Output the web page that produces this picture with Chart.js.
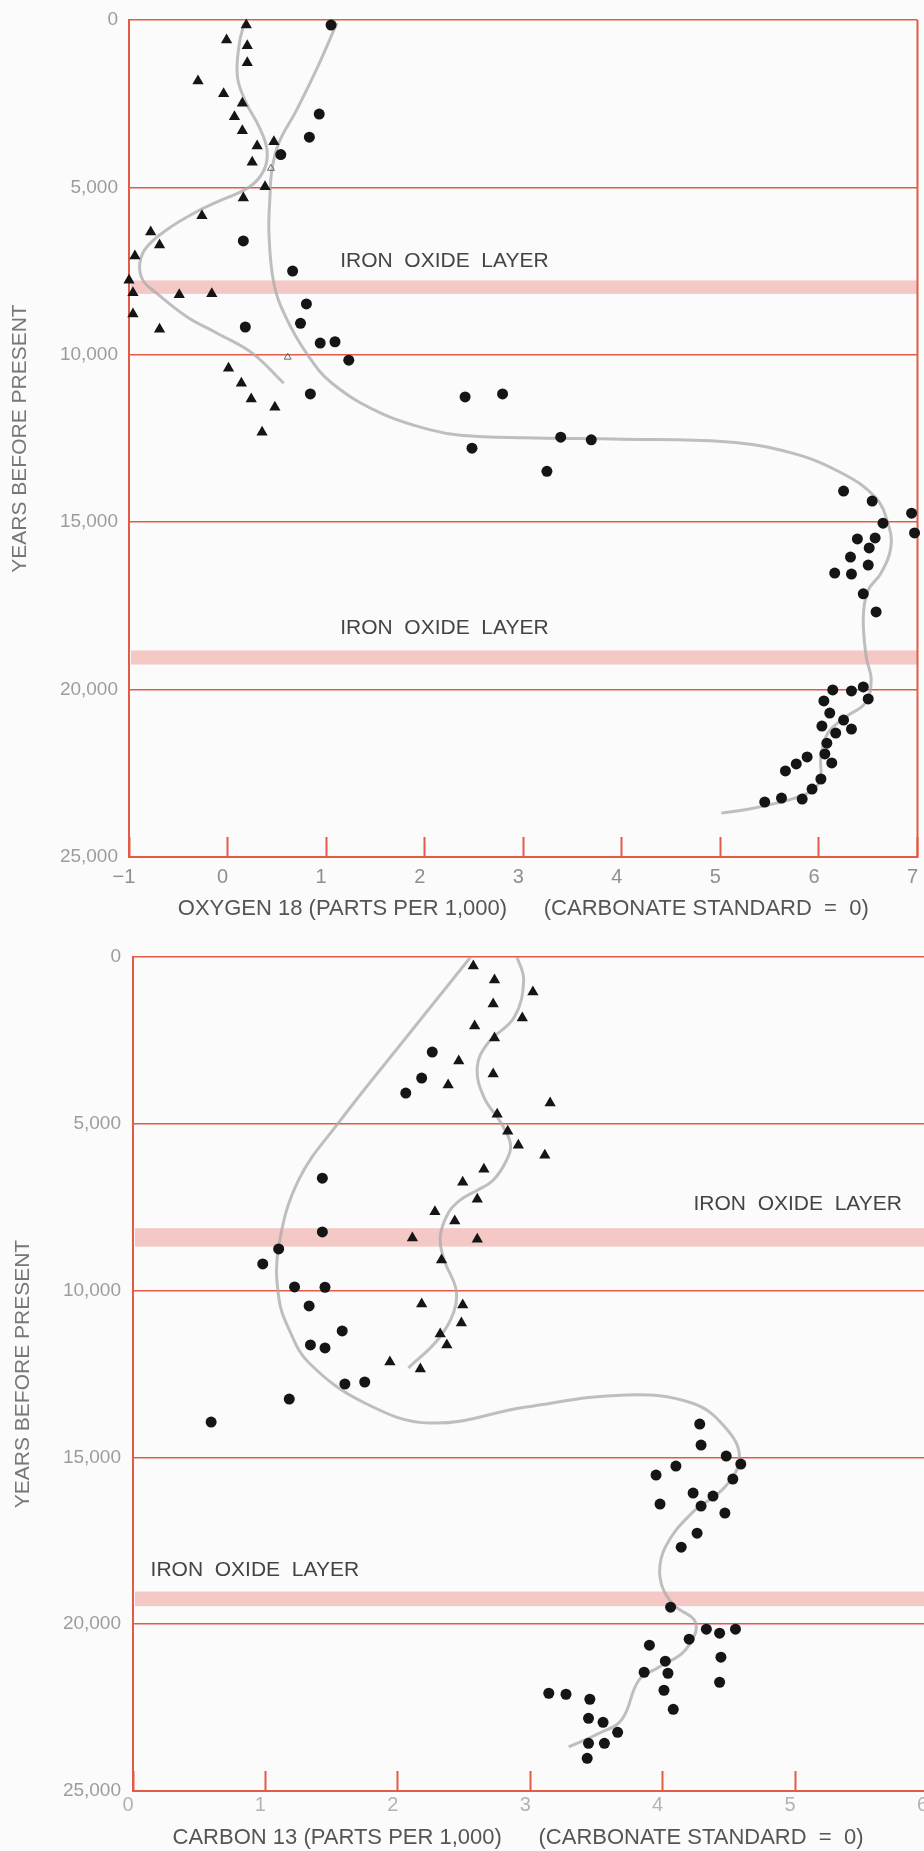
<!DOCTYPE html>
<html>
<head>
<meta charset="utf-8">
<title>Oxygen 18 and carbon 13 in the core</title>
<script src="https://cdn.jsdelivr.net/npm/chart.js@4.4.1/dist/chart.umd.min.js"></script>
<style>
  html, body { margin: 0; padding: 0; background: #fbfbfb; width: 924px; height: 1851px; overflow: hidden; }
  canvas { position: absolute; left: 0; }
  #o18Chart { top: 0; }
  #c13Chart { top: 940px; }
</style>
</head>
<body>
<canvas id="o18Chart" width="924" height="940"></canvas>
<canvas id="c13Chart" width="934" height="911"></canvas>
<script>
// ---- oxygen 18 (top panel) ----
var o18CircleX = [1.05, 0.93, 0.83, 0.54, 0.16, 0.66, 0.80, 0.74, 0.18, 0.94, 1.09, 1.23, 0.84, 2.41, 2.79, 3.38, 3.69, 2.48, 3.24,
  6.25, 6.54, 6.94, 6.65, 6.97, 6.39, 6.57, 6.51, 6.32, 6.50, 6.16, 6.33, 6.45, 6.58,
  6.14, 6.33, 6.45, 6.50, 6.05, 6.11, 6.25, 6.03, 6.33, 6.17, 6.08, 6.06, 6.13, 5.88, 5.77, 5.66, 6.02, 5.93, 5.83, 5.62, 5.45];
var o18CircleYears = [150, 2810, 3500, 4020, 6600, 7500, 8480, 9060, 9170, 9650, 9610, 10160, 11170, 11260, 11170, 12460, 12540, 12790, 13480,
  14070, 14370, 14730, 15030, 15320, 15500, 15470, 15770, 16040, 16280, 16520, 16550, 17140, 17680,
  20010, 20040, 19920, 20280, 20340, 20700, 20910, 21090, 21180, 21300, 21600, 21920, 22190, 22010, 22220, 22430, 22670, 22970, 23270, 23240, 23360];

var o18TriangleX = [0.19, -0.01, 0.20, 0.20, -0.30, -0.04, 0.15, 0.07, 0.15, 0.30, 0.47, 0.25, 0.38, 0.16, -0.26, -0.78, -0.69, -0.94,
  -1.00, -0.96, -0.49, -0.16, -0.96, -0.69, 0.01, 0.14, 0.24, 0.48, 0.35];
var o18TriangleYears = [150, 600, 770, 1280, 1820, 2200, 2490, 2890, 3310, 3760, 3640, 4250, 4980, 5320, 5850, 6330, 6720, 7050,
  7770, 8150, 8210, 8180, 8780, 9240, 10400, 10850, 11320, 11570, 12310];
var o18FaintX = [0.44, 0.61];
var o18FaintYears = [4430, 10070];

var o18TriangleCurveX = [0.17, 0.12, 0.10, 0.19, 0.32, 0.40, 0.37, 0.22, -0.11, -0.31, -0.62, -0.82, -0.89, -0.86, -0.72, -0.41, -0.11, 0.25, 0.57];
var o18TriangleCurveYears = [90, 690, 1700, 2480, 3190, 3880, 4480, 4990, 5440, 5720, 6270, 6780, 7260, 7770, 8160, 8870, 9350, 9950, 10850];

var o18CircleCurveX = [1.11, 0.90, 0.70, 0.52, 0.45, 0.43, 0.42, 0.47, 0.59, 0.80, 1.06, 1.56, 2.07, 2.36, 3.00, 4.00, 5.05, 5.72, 6.23, 6.57,
  6.70, 6.73, 6.63, 6.50, 6.45, 6.48, 6.53, 6.47, 6.27, 6.09, 6.02, 6.01, 5.89, 5.39, 5.01];
var o18CircleCurveYears = [90, 1490, 2690, 3670, 4480, 5290, 6370, 7870, 8870, 9950, 10850, 11750, 12250, 12400, 12480, 12520, 12600, 12930, 13530, 14250,
  15030, 15740, 16520, 17030, 17830, 19030, 19710, 20400, 20820, 21300, 22010, 22700, 23090, 23510, 23690];

var o18Layers = [[7780, 8180], [18830, 19250]];
var o18XTicks = [-1, 0, 1, 2, 3, 4, 5, 6, 7];

// ---- carbon 13 (bottom panel) ----
var c13CircleX = [2.26, 2.18, 2.06, 1.43, 1.43, 1.10, 0.98, 1.22, 1.45, 1.33, 1.58, 1.34, 1.45, 1.60, 1.75, 1.18, 0.59,
  4.28, 4.29, 4.48, 4.59, 4.10, 3.95, 4.53, 4.23, 4.38, 3.98, 4.29, 4.47, 4.26, 4.14, 4.06,
  4.33, 4.43, 4.55, 4.20, 3.90, 4.02, 4.44, 3.86, 4.04, 4.43, 3.14, 3.27, 4.01, 3.45, 4.08, 3.44, 3.55, 3.66, 3.44, 3.56, 3.43];
var c13CircleYears = [2850, 3630, 4080, 6630, 8240, 8750, 9200, 9890, 9900, 10460, 11210, 11630, 11720, 12800, 12740, 13250, 13940,
  14000, 14630, 14960, 15200, 15260, 15530, 15650, 16070, 16160, 16400, 16460, 16670, 17270, 17690, 19490,
  20150, 20270, 20150, 20450, 20630, 21110, 20990, 21440, 21470, 21740, 22070, 22100, 21980, 22250, 22550, 22820, 22940, 23240, 23570, 23570, 24020];

var c13TriangleX = [2.57, 2.73, 3.02, 2.72, 2.94, 2.58, 2.73, 2.46, 2.72, 2.38, 3.15, 2.75, 2.83, 2.91, 3.11, 2.65, 2.49, 2.60,
  2.28, 2.43, 2.11, 2.60, 2.33, 2.18, 2.49, 2.48, 2.32, 2.37, 1.94, 2.17];
var c13TriangleYears = [270, 690, 1050, 1410, 1830, 2070, 2430, 3120, 3510, 3840, 4380, 4710, 5220, 5640, 5940, 6360, 6750, 7260,
  7640, 7910, 8420, 8460, 9080, 10400, 10430, 10970, 11300, 11630, 12140, 12350];

var c13TriangleCurveX = [2.90, 2.95, 2.88, 2.68, 2.60, 2.65, 2.78, 2.85, 2.82, 2.72, 2.60, 2.47, 2.38, 2.32, 2.35, 2.44, 2.42, 2.30, 2.08];
var c13TriangleCurveYears = [0, 690, 1800, 2580, 3300, 4200, 4980, 5600, 6100, 6690, 6990, 7290, 7680, 8390, 9080, 9980, 10670, 11480, 12320];

var c13CircleCurveX = [2.55, 2.09, 1.55, 1.25, 1.10, 1.10, 1.18, 1.33, 1.75, 2.25, 2.97, 3.72, 4.22, 4.47, 4.58, 4.47, 4.22, 4.02,
  3.98, 4.07, 4.25, 4.17, 3.97, 3.82, 3.69, 3.52, 3.29];
var c13CircleCurveYears = [0, 2280, 4980, 6690, 8690, 10190, 11180, 12170, 13370, 13970, 13490, 13130, 13370, 14090, 14990, 15890, 16670, 17690,
  18590, 19370, 19970, 20780, 21290, 21680, 22870, 23270, 23680];

var c13Layers = [[8130, 8680], [19020, 19460]];
var c13XTicks = [0, 1, 2, 3, 4, 5, 6];

var yearTicks = [0, 5000, 10000, 15000, 20000, 25000];

var RED = '#e35a46';
var FONT = "'Liberation Sans', Arial, sans-serif";

function pts(xs, ys) {
	return xs.map(function (x, i) { return { x: x, y: ys[i] }; });
}

// pink iron oxide bands, their captions and (top panel only) the right frame line
var ironOxidePlugin = {
	id: 'ironOxide',
	beforeDatasetsDraw: function (chart, args, opts) {
		var ctx = chart.ctx, a = chart.chartArea, xs = chart.scales.x, ys = chart.scales.y;
		ctx.save();
		ctx.fillStyle = 'rgba(238, 150, 142, 0.5)';
		opts.bands.forEach(function (b) {
			var y0 = ys.getPixelForValue(b[0]), y1 = ys.getPixelForValue(b[1]);
			ctx.fillRect(a.left + 2, y0, a.right - a.left - 2, y1 - y0);
		});
		ctx.fillStyle = '#444';
		ctx.font = '21px ' + FONT;
		ctx.textAlign = 'center';
		ctx.textBaseline = 'middle';
		opts.labels.forEach(function (l) {
			ctx.fillText('IRON  OXIDE  LAYER', xs.getPixelForValue(l.x), ys.getPixelForValue(l.y));
		});
		if (opts.rightBorder) {
			ctx.strokeStyle = RED;
			ctx.lineWidth = 2;
			ctx.beginPath();
			ctx.moveTo(a.right, a.top);
			ctx.lineTo(a.right, a.bottom);
			ctx.stroke();
		}
		ctx.restore();
	}
};

function buildChart(id, s) {
	var ctx = document.getElementById(id).getContext('2d');
	var datasets = [
		{ data: pts(s.circleX, s.circleY), pointStyle: 'circle', pointRadius: 5.5, backgroundColor: '#151515', borderWidth: 0, clip: false },
		{ data: pts(s.triX, s.triY), pointStyle: 'triangle', pointRadius: 6.5, backgroundColor: '#151515', borderWidth: 0, clip: false }
	];
	if (s.faintX) {
		datasets.push({ data: pts(s.faintX, s.faintY), pointStyle: 'triangle', pointRadius: 4, backgroundColor: 'rgba(0,0,0,0)', borderColor: '#666', borderWidth: 1 });
	}
	s.curves.forEach(function (c) {
		datasets.push({ data: pts(c[0], c[1]), showLine: true, pointRadius: 0, borderColor: 'rgba(170,170,170,0.75)', borderWidth: 3, tension: 0.4 });
	});

	return new Chart(ctx, {
		type: 'scatter',
		data: { datasets: datasets },
		options: {
			responsive: false,
			animation: false,
			events: [],
			layout: { padding: s.padding },
			plugins: {
				legend: { display: false },
				tooltip: { enabled: false },
				ironOxide: { bands: s.bands, labels: s.labels, rightBorder: s.rightBorder }
			},
			scales: {
				x: {
					type: 'linear',
					min: s.xTicks[0],
					max: s.xTicks[s.xTicks.length - 1],
					afterBuildTicks: function (scale) {
						scale.ticks = s.xTicks.map(function (v) { return { value: v }; });
					},
					ticks: {
						padding: s.xTickPad,
						labelOffset: -5,
						color: s.xTickColor,
						font: { family: FONT, size: 20 },
						maxRotation: 0,
						callback: function (v) { return v < 0 ? '\u2212' + Math.abs(v) : String(v); }
					},
					grid: { drawOnChartArea: false, tickLength: -20, tickColor: RED, tickWidth: 2, color: RED },
					border: { color: RED, width: 2 },
					title: {
						display: true,
						text: s.xTitle,
						color: '#555',
						font: { family: FONT, size: 22 },
						padding: { top: 0, bottom: s.xTitlePad }
					},
					afterFit: function (scale) {
						scale.height = s.xHeight;
						scale.paddingLeft = 0;
						scale.paddingRight = 0;
					}
				},
				y: {
					type: 'linear',
					reverse: true,
					min: 0,
					max: 25000,
					afterBuildTicks: function (scale) {
						scale.ticks = yearTicks.map(function (v) { return { value: v }; });
					},
					ticks: {
						padding: s.yTickPad,
						color: '#9c9c9c',
						font: { family: FONT, size: 19 },
						callback: function (v) { return v.toLocaleString('en-US'); }
					},
					grid: { color: RED, lineWidth: 1.5, drawTicks: false },
					border: { color: RED, width: 2 },
					title: {
						display: true,
						text: 'YEARS BEFORE PRESENT',
						color: '#777',
						font: { family: FONT, size: 21 },
						padding: { top: s.yTitlePad, bottom: 0 }
					},
					afterFit: function (scale) {
						scale.width = s.yWidth;
						scale.paddingTop = 0;
						scale.paddingBottom = 0;
					}
				}
			}
		},
		plugins: [ironOxidePlugin]
	});
}

buildChart('o18Chart', {
	circleX: o18CircleX, circleY: o18CircleYears,
	triX: o18TriangleX, triY: o18TriangleYears,
	faintX: o18FaintX, faintY: o18FaintYears,
	curves: [[o18TriangleCurveX, o18TriangleCurveYears], [o18CircleCurveX, o18CircleCurveYears]],
	bands: o18Layers,
	labels: [{ x: 2.2, y: 7200 }, { x: 2.2, y: 18160 }],
	rightBorder: true,
	xTicks: o18XTicks,
	xTitle: 'OXYGEN 18 (PARTS PER 1,000)      (CARBONATE STANDARD  =  0)',
	xTickColor: '#8f8f8f',
	padding: { top: 20, right: 2, bottom: 0, left: 0 },
	xHeight: 83, xTickPad: 28, xTitlePad: 18,
	yWidth: 129, yTickPad: 11, yTitlePad: 7.4
});

buildChart('c13Chart', {
	circleX: c13CircleX, circleY: c13CircleYears,
	triX: c13TriangleX, triY: c13TriangleYears,
	curves: [[c13TriangleCurveX, c13TriangleCurveYears], [c13CircleCurveX, c13CircleCurveYears]],
	bands: c13Layers,
	labels: [{ x: 5.02, y: 7400 }, { x: 0.92, y: 18380 }],
	rightBorder: false,
	xTicks: c13XTicks,
	xTitle: 'CARBON 13 (PARTS PER 1,000)      (CARBONATE STANDARD  =  0)    ',
	xTickColor: '#b3b3b3',
	padding: { top: 17, right: 2, bottom: 0, left: 0 },
	xHeight: 60, xTickPad: 22, xTitlePad: 0,
	yWidth: 133, yTickPad: 12, yTitlePad: 10.4
});
</script>
</body>
</html>
